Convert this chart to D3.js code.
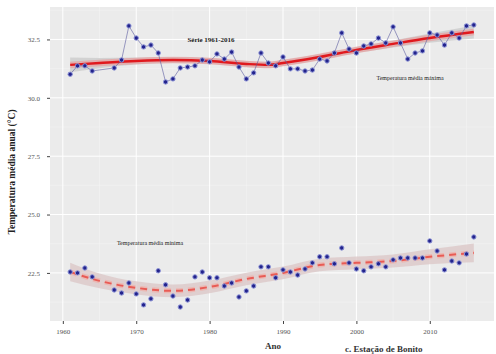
<!DOCTYPE html>
<html><head><meta charset="utf-8">
<script src="https://cdn.jsdelivr.net/npm/d3@7"></script>
<style>html,body{margin:0;padding:0;background:#fff;}svg{display:block;}</style>
</head><body>
<script>
// ---- data ----
const years = d3.range(1961, 2017);
const tempMax = [31.01,31.37,31.37,31.15,null,null,31.28,31.62,33.08,32.56,
  32.18,32.26,31.92,30.68,30.81,31.28,31.32,31.37,31.62,31.54,
  31.88,31.66,31.96,31.32,30.81,31.07,31.92,31.49,31.37,31.75,
  31.24,31.24,31.15,31.19,31.66,31.58,31.92,32.78,32.09,31.92,
  32.22,32.31,32.56,32.35,33.04,32.35,31.66,31.92,32.01,32.78,
  32.69,32.26,32.78,32.56,33.08,33.12];
const tempMin = [22.54,22.50,22.71,22.33,null,null,21.77,21.64,22.07,21.60,
  21.13,21.39,22.59,21.99,21.51,21.04,21.34,22.33,22.54,22.29,
  22.29,21.94,22.07,21.47,21.73,21.94,22.76,22.76,22.29,22.63,
  22.54,22.41,22.67,22.93,23.19,23.19,22.89,23.57,22.93,22.67,
  22.59,22.76,22.89,22.76,23.06,23.14,23.14,23.14,23.14,23.87,
  23.44,22.63,23.01,22.93,23.31,24.04];
// smoothed (loess) curves
const smoothYears = [1961,1965,1970,1975,1980,1985,1988,1990,1995,2000,2005,2010,2016];
const smoothMax   = [31.41,31.49,31.58,31.62,31.58,31.45,31.41,31.49,31.75,32.05,32.31,32.56,32.82];
const smoothMaxSe = [0.32,0.22,0.15,0.13,0.13,0.13,0.13,0.13,0.13,0.13,0.15,0.2,0.28];
const smoothYears2 = [1961,1965,1970,1975,1980,1985,1990,1995,2000,2005,2010,2016];
const smoothMin   = [22.54,22.16,21.86,21.73,21.90,22.24,22.50,22.84,22.93,23.01,23.19,23.36];
const smoothMinSe = [0.4,0.32,0.28,0.27,0.27,0.27,0.27,0.27,0.27,0.28,0.32,0.4];
const xTicks = [1960,1970,1980,1990,2000,2010];
const yTicks = [22.5,25.0,27.5,30.0,32.5];
const labels = {
  title: "Série 1961-2016",
  max: "Temperatura média máxima",
  min: "Temperatura média mínima",
  yTitle: "Temperatura média anual (°C)",
  xTitle: "Ano",
  caption: "c. Estação de Bonito"
};

// ---- drawing ----
const W = 496, H = 354;
const P = {l: 50, r: 494, t: 7, b: 321};
const svg = d3.select("body").append("svg").attr("width", W).attr("height", H);
svg.append("rect").attr("width", W).attr("height", H).attr("fill", "#fff");

const x = d3.scaleLinear().domain([1958.25, 2018.75]).range([P.l, P.r]);
const y = d3.scaleLinear().domain([20.44, 33.89]).range([P.b, P.t]);
const font = "'Liberation Serif', 'DejaVu Serif', serif";

svg.append("rect").attr("x", P.l).attr("y", P.t).attr("width", P.r - P.l).attr("height", P.b - P.t).attr("fill", "#ebebeb");

// grid
const g = svg.append("g");
const xMinor = xTicks.map(d => d + 5);
const yMinor = [21.25].concat(yTicks.map(d => d + 1.25));
g.selectAll(".xm").data(xMinor).join("line").attr("x1", d => x(d)).attr("x2", d => x(d)).attr("y1", P.t).attr("y2", P.b).attr("stroke", "#f5f5f5").attr("stroke-width", 0.5);
g.selectAll(".ym").data(yMinor).join("line").attr("y1", d => y(d)).attr("y2", d => y(d)).attr("x1", P.l).attr("x2", P.r).attr("stroke", "#f5f5f5").attr("stroke-width", 0.5);
g.selectAll(".xg").data(xTicks).join("line").attr("x1", d => x(d)).attr("x2", d => x(d)).attr("y1", P.t).attr("y2", P.b).attr("stroke", "#fff").attr("stroke-width", 1);
g.selectAll(".yg").data(yTicks).join("line").attr("y1", d => y(d)).attr("y2", d => y(d)).attr("x1", P.l).attr("x2", P.r).attr("stroke", "#fff").attr("stroke-width", 1);

// axes
const xAxis = svg.append("g").attr("transform", `translate(0,${P.b})`)
  .call(d3.axisBottom(x).tickValues(xTicks).tickFormat(d3.format("d")).tickSize(3).tickPadding(5));
const yAxis = svg.append("g").attr("transform", `translate(${P.l},0)`)
  .call(d3.axisLeft(y).tickValues(yTicks).tickFormat(d3.format(".1f")).tickSize(3).tickPadding(7));
[xAxis, yAxis].forEach(a => {
  a.select(".domain").remove();
  a.selectAll(".tick line").attr("stroke", "#444");
  a.selectAll(".tick text").attr("fill", "#555").attr("font-family", font).attr("font-size", 7);
});

// ribbons & smooths
function band(ys, vals, se, fill, op) {
  const d = ys.map((yr, i) => ({yr, v: vals[i], s: se[i]}));
  svg.append("path").datum(d)
    .attr("d", d3.area().x(p => x(p.yr)).y0(p => y(p.v - p.s)).y1(p => y(p.v + p.s)).curve(d3.curveMonotoneX))
    .attr("fill", fill).attr("opacity", op);
}
function smooth(ys, vals, color, w, dash, op) {
  const d = ys.map((yr, i) => ({yr, v: vals[i]}));
  svg.append("path").datum(d)
    .attr("d", d3.line().x(p => x(p.yr)).y(p => y(p.v)).curve(d3.curveMonotoneX))
    .attr("fill", "none").attr("stroke", color).attr("stroke-width", w)
    .attr("stroke-dasharray", dash).attr("opacity", op);
}
band(smoothYears, smoothMax, smoothMaxSe, "#c9c9c9", 0.75);
band(smoothYears2, smoothMin, smoothMinSe, "#dcc8c8", 0.8);
smooth(smoothYears, smoothMax, "#f08a8a", 6.5, null, 0.5);
smooth(smoothYears, smoothMax, "#e0191e", 2.4, null, 1);
smooth(smoothYears2, smoothMin, "#f3a8a0", 5, "7,5", 0.6);
smooth(smoothYears2, smoothMin, "#e8514a", 2, "7,5", 0.9);

// observed max: line + points
const maxPts = years.map((yr, i) => ({yr, v: tempMax[i]})).filter(p => p.v !== null);
const minPts = years.map((yr, i) => ({yr, v: tempMin[i]})).filter(p => p.v !== null);
svg.append("path").datum(maxPts)
  .attr("d", d3.line().x(p => x(p.yr)).y(p => y(p.v)))
  .attr("fill", "none").attr("stroke", "#5a5aa0").attr("stroke-width", 0.6);
[maxPts, minPts].forEach(pts => {
  svg.append("g").selectAll("circle").data(pts).join("circle")
    .attr("cx", p => x(p.yr)).attr("cy", p => y(p.v)).attr("r", 2.2)
    .attr("fill", "#23238c").attr("stroke", "#8f96d8").attr("stroke-width", 1);
});

// annotations
svg.append("text").attr("x", 211).attr("y", 42).attr("text-anchor", "middle")
  .attr("font-family", font).attr("font-size", 7).attr("font-weight", "bold").attr("fill", "#222").text(labels.title);
svg.append("text").attr("x", 410).attr("y", 80).attr("text-anchor", "middle")
  .attr("font-family", font).attr("font-size", 6).attr("fill", "#222").text(labels.max);
svg.append("text").attr("x", 150).attr("y", 245).attr("text-anchor", "middle")
  .attr("font-family", font).attr("font-size", 6).attr("fill", "#222").text(labels.min);
svg.append("text").attr("transform", `translate(15,${(P.t + P.b) / 2 + 8}) rotate(-90)`).attr("text-anchor", "middle")
  .attr("font-family", font).attr("font-size", 9.5).attr("font-weight", "bold").attr("fill", "#222").text(labels.yTitle);
svg.append("text").attr("x", 273).attr("y", 349).attr("text-anchor", "middle")
  .attr("font-family", font).attr("font-size", 9).attr("font-weight", "bold").attr("fill", "#333").text(labels.xTitle);
svg.append("text").attr("x", 345).attr("y", 352)
  .attr("font-family", font).attr("font-size", 9).attr("font-weight", "bold").attr("fill", "#333").text(labels.caption);
</script>
</body></html>
